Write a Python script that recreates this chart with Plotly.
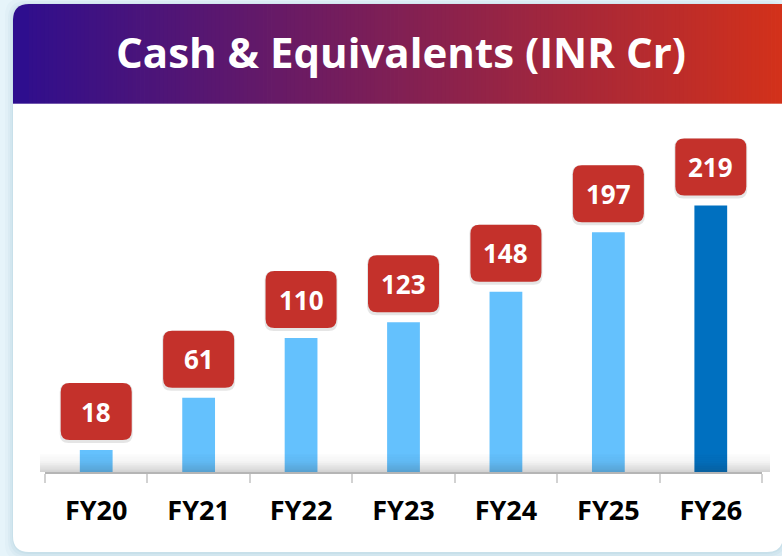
import plotly.graph_objects as go

# ---------------- data ----------------
categories = ["FY20", "FY21", "FY22", "FY23", "FY24", "FY25", "FY26"]
values = [18, 61, 110, 123, 148, 197, 219]
bar_colors = ["#64C1FD", "#64C1FD", "#64C1FD", "#64C1FD", "#64C1FD", "#64C1FD", "#0070C0"]
title_text = "Cash & Equivalents (INR Cr)"

# ---------------- geometry helpers ----------------
W, H = 782, 556
L, R, T, B = 45, 20, 130, 84
PW, PH = W - L - R, H - T - B


def px(x):
    return (x - L) / PW


def py(y):
    return (H - B - y) / PH


def rrect(x0, y0, x1, y1, rx, ry, corners=(1, 1, 1, 1)):
    # corners: top-left, top-right, bottom-right, bottom-left ; y0 = top (larger), y1 = bottom
    tl, tr, br, bl = corners
    p = []
    p.append(f"M {x0 + rx * tl},{y0}")
    p.append(f"L {x1 - rx * tr},{y0}")
    if tr:
        p.append(f"Q {x1},{y0} {x1},{y0 - ry}")
    p.append(f"L {x1},{y1 + ry * br}")
    if br:
        p.append(f"Q {x1},{y1} {x1 - rx},{y1}")
    p.append(f"L {x0 + rx * bl},{y1}")
    if bl:
        p.append(f"Q {x0},{y1} {x0},{y1 + ry}")
    p.append(f"L {x0},{y0 - ry * tl}")
    if tl:
        p.append(f"Q {x0},{y0} {x0 + rx},{y0}")
    p.append("Z")
    return " ".join(p)


def lerp_color(c0, c1, t):
    a = [int(c0[i:i + 2], 16) for i in (1, 3, 5)]
    b = [int(c1[i:i + 2], 16) for i in (1, 3, 5)]
    return "rgb({},{},{})".format(*[round(a[k] + (b[k] - a[k]) * t) for k in range(3)])


shapes = []

# card shadow
for k, op in [(8, 0.04), (5, 0.05), (3, 0.06), (1, 0.08)]:
    shapes.append(dict(type="path", xref="paper", yref="paper", layer="below",
                       path=rrect(px(13 - k), py(4 - k + 2), px(783 + k), py(552 + k + 1), 18 / PW, 18 / PH),
                       fillcolor=f"rgba(90,150,180,{op})", line=dict(width=0)))
# card
shapes.append(dict(type="path", xref="paper", yref="paper", layer="below",
                   path=rrect(px(13), py(4), px(783), py(552), 16 / PW, 16 / PH),
                   fillcolor="white", line=dict(width=0)))

# header gradient
c_left, c_right = "#2E0E8E", "#D3311A"
shapes.append(dict(type="path", xref="paper", yref="paper", layer="below",
                   path=rrect(px(13), py(4), px(40), py(104), 16 / PW, 16 / PH, corners=(1, 0, 0, 0)),
                   fillcolor=c_left, line=dict(width=0)))
x_start, x_end, n = 29, 783, 190
step = (x_end - x_start) / n
for i in range(n):
    xa = x_start + i * step
    t = (xa + step / 2 - 13) / (783 - 13)
    shapes.append(dict(type="rect", xref="paper", yref="paper", layer="below",
                       x0=px(xa), x1=px(xa + step + 0.8), y0=py(104), y1=py(4),
                       fillcolor=lerp_color(c_left, c_right, t), line=dict(width=0)))
# thin light line at bottom of header
shapes.append(dict(type="rect", xref="paper", yref="paper", layer="below",
                   x0=px(13), x1=px(783), y0=py(104.5), y1=py(103),
                   fillcolor="rgba(255,255,255,0.3)", line=dict(width=0)))

# shadow just above the axis line
n_s = 10
for i in range(n_s):
    ya = 472 - 18 + i * 1.8
    op = 0.015 + 0.19 * ((i + 1) / n_s) ** 2
    shapes.append(dict(type="rect", xref="paper", yref="paper", layer="above",
                       x0=px(40), x1=px(770), y0=py(ya + 1.8), y1=py(ya),
                       fillcolor=f"rgba(40,40,40,{op:.3f})", line=dict(width=0)))

# value label boxes (pixel sized, anchored at bar values)
bw, bh, gap, rad = 71, 57, 10, 9
for c, v in zip(categories, values):
    shapes.append(dict(type="path", xref="x", yref="y", xsizemode="pixel", ysizemode="pixel",
                       xanchor=c, yanchor=v, layer="above",
                       path=rrect(-bw / 2 - 1, gap + bh + 0, bw / 2 + 1, gap - 3, rad, rad),
                       fillcolor="rgba(0,0,0,0.10)", line=dict(width=0)))
    shapes.append(dict(type="path", xref="x", yref="y", xsizemode="pixel", ysizemode="pixel",
                       xanchor=c, yanchor=v, layer="above",
                       path=rrect(-bw / 2, gap + bh, bw / 2, gap, rad, rad),
                       fillcolor="#C4312B", line=dict(width=0)))

annotations = []
for c, v in zip(categories, values):
    annotations.append(dict(x=c, y=v, xref="x", yref="y", yshift=gap + bh / 2, showarrow=False,
                            text=f"<b>{v}</b>", yanchor="middle", xanchor="center",
                            font=dict(family="Open Sans", size=26, color="white")))

fig = go.Figure(go.Bar(x=categories, y=values, marker=dict(color=bar_colors, line=dict(width=0)),
                       width=0.32, hoverinfo="skip"))

fig.update_layout(
    width=W, height=H,
    margin=dict(l=L, r=R, t=T, b=B),
    paper_bgcolor="#E6F4FA",
    plot_bgcolor="rgba(0,0,0,0)",
    showlegend=False,
    title=dict(text=f"<b>{title_text}</b>", x=401 / W, y=1 - 53 / H, xref="container", yref="container",
               xanchor="center", yanchor="middle",
               font=dict(family="Open Sans", size=42, color="white")),
    shapes=shapes,
    annotations=annotations,
    xaxis=dict(type="category", range=[-0.5, 6.5], showline=True, linecolor="#B5B5B5", linewidth=1.5,
               ticks="outside", tickson="boundaries", ticklen=9, tickcolor="#D2D2D2", tickwidth=1.5,
               showgrid=False, zeroline=False, ticklabelstandoff=14,
               tickfont=dict(family="Open Sans", size=27, color="black", weight="bold")),
    yaxis=dict(range=[0, 281], visible=False, showgrid=False, zeroline=False),
)

fig.write_html("out.html", config={"displayModeBar": False},
               post_script="document.body.style.margin='0';document.body.style.overflow='hidden';")
